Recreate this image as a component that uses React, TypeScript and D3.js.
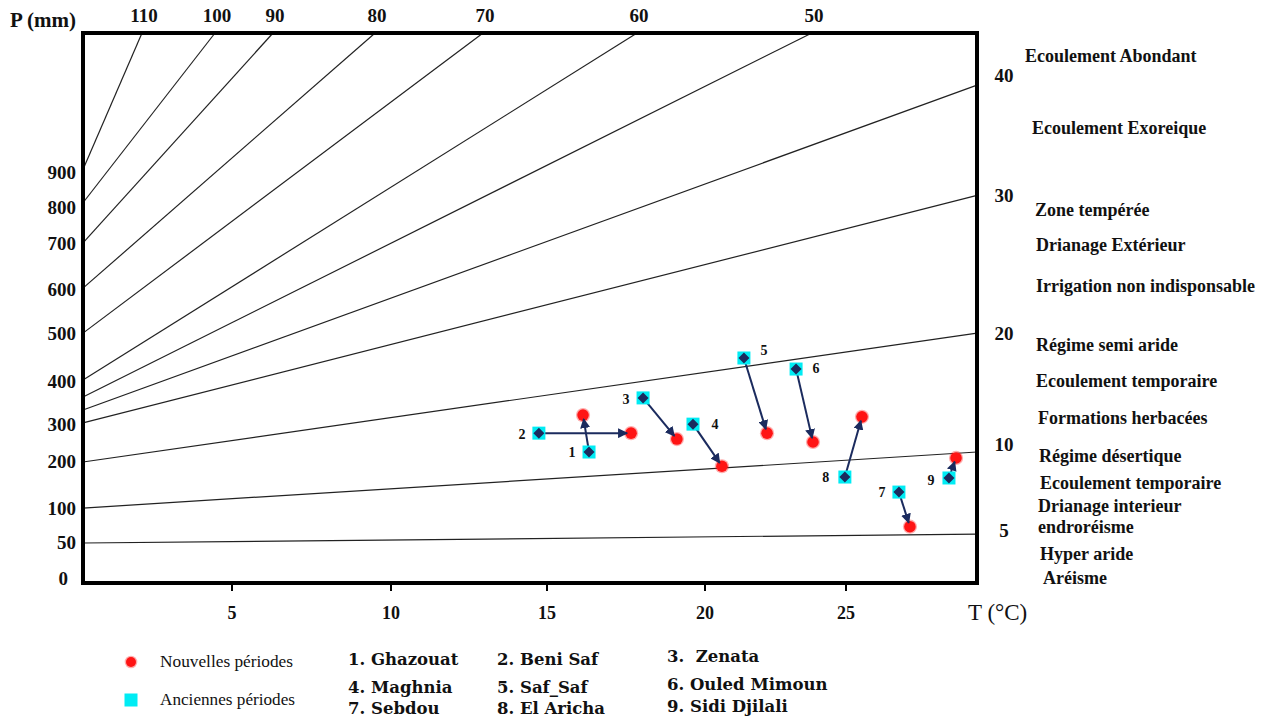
import React from "react";
import * as d3 from "d3";

// ---- Data ----
const tTicks = [5, 10, 15, 20, 25];
const pTicks = [0, 50, 100, 200, 300, 400, 500, 600, 700, 800, 900];

// De Martonne iso-aridity lines: index, P at T=0, and end point (top or right edge)
const isoIndex = [110, 100, 90, 80, 70, 60, 50, 40, 30, 20, 10, 5];
const isoStartP = [910, 815, 703, 604, 502, 404, 365, 335, 305, 200, 102, 50];
const isoEndT = [1.98, 4.43, 6.29, 9.5, 12.95, 17.85, 23.79, 30, 30, 30, 30, 30];
const isoEndP = [1300, 1300, 1300, 1300, 1300, 1300, 1300, 1151, 836, 502, 227, 63];

const stationNames = [
  "Ghazouat",
  "Beni Saf",
  "Zenata",
  "Maghnia",
  "Saf_Saf",
  "Ouled Mimoun",
  "Sebdou",
  "El Aricha",
  "Sidi Djilali",
];
const oldT = [16.33, 14.74, 18.04, 19.62, 21.38, 23.23, 27.02, 24.96, 28.93];
const oldP = [227, 278, 363, 302, 450, 427, 136, 168, 166];
const newT = [16.14, 17.66, 19.11, 20.6, 22.2, 23.83, 27.44, 25.61, 29.2];
const newP = [323, 278, 262, 191, 278, 254, 74, 319, 211];

const zoneLabels = [
  "Ecoulement Abondant",
  "Ecoulement Exoreique",
  "Zone tempérée",
  "Drianage Extérieur",
  "Irrigation non indisponsable",
  "Régime semi aride",
  "Ecoulement temporaire",
  "Formations herbacées",
  "Régime désertique",
  "Ecoulement temporaire",
  "Drianage interieur",
  "endroréisme",
  "Hyper aride",
  "Aréisme",
];

const legendSeries = ["Nouvelles périodes", "Anciennes périodes"];

// ---- Layout ----
const W = 1269;
const H = 719;
const L = 83,
  R = 977,
  T = 33,
  B = 583;

const zoneLayout: [number, number][] = [
  [1025, 56], [1032, 128], [1035, 210], [1036, 245], [1036, 286], [1036, 345],
  [1036, 381], [1038, 418], [1039, 456], [1040, 483], [1038, 506], [1038, 527],
  [1040, 554], [1043, 578],
];
const labelOffsets: [number, number][] = [
  [-17, 0], [-17, 1], [-17, 1], [22, 0], [20, -8], [20, -1], [-17, 0], [-19, 0], [-18, 2],
];
const listCols = [348, 497, 667];
const listRows = [
  [659, 687, 708],
  [659, 687, 708],
  [656, 684, 706],
];

const serif = "'Liberation Serif', 'Times New Roman', serif";
const listFont = "'DejaVu Serif', serif";
const NAVY = "#1b2b5e";
const CYAN = "#00ecf4";
const RED = "#ff1414";

export default function App() {
  // piecewise-linear scales matching the hand-drawn axes
  const x = d3
    .scaleLinear()
    .domain([0, 5, 10, 15, 20, 25, 30])
    .range([L, 232, 391, 547, 705, 846, R]);
  const y = d3
    .scaleLinear()
    .domain([0, 50, 100, 200, 300, 400, 500, 600, 700, 800, 900, 1300])
    .range([580, 543, 509, 462, 425, 382, 334, 290, 244, 208, 173, T]);

  const line = d3
    .line<[number, number]>()
    .x((d) => x(d[0]))
    .y((d) => y(d[1]));

  const stations = stationNames.map((name, i) => {
    const x0 = x(oldT[i]);
    const y0 = y(oldP[i]);
    const x1 = x(newT[i]);
    const y1 = y(newP[i]);
    const len = Math.hypot(x1 - x0, y1 - y0);
    const ex = x1 - ((x1 - x0) / len) * 4;
    const ey = y1 - ((y1 - y0) / len) * 4;
    return { name, i, x0, y0, x1, y1, ex, ey };
  });

  const RedMarker = ({ cx, cy, r = 5.8 }: { cx: number; cy: number; r?: number }) => (
    <g>
      <circle cx={cx} cy={cy} r={r + 1.3} fill={RED} opacity={0.35} />
      <circle cx={cx} cy={cy} r={r} fill={RED} />
    </g>
  );

  const OldMarker = ({ cx, cy, diamond = true }: { cx: number; cy: number; diamond?: boolean }) => (
    <g>
      <rect x={cx - 6.5} y={cy - 6.5} width={13} height={13} fill={CYAN} />
      {diamond && (
        <path
          d={`M${cx},${cy - 5.5} L${cx + 5.5},${cy} L${cx},${cy + 5.5} L${cx - 5.5},${cy} Z`}
          fill={NAVY}
        />
      )}
    </g>
  );

  return (
    <svg
      width={W}
      height={H}
      style={{ position: "absolute", left: 0, top: 0, background: "#fff" }}
      xmlns="http://www.w3.org/2000/svg"
    >
      <defs>
        <marker
          id="arrow"
          viewBox="0 0 10 10"
          refX={9}
          refY={5}
          markerWidth={5}
          markerHeight={5}
          orient="auto"
          markerUnits="strokeWidth"
        >
          <path d="M0,0 L10,5 L0,10 Z" fill={NAVY} />
        </marker>
      </defs>
      <rect x={0} y={0} width={W} height={H} fill="#fff" />

      {/* iso-aridity lines */}
      {isoIndex.map((ix, i) => (
        <path
          key={"iso" + ix}
          d={line([
            [0, isoStartP[i]],
            [isoEndT[i], isoEndP[i]],
          ]) as string}
          fill="none"
          stroke="#222"
          strokeWidth={1.2}
        />
      ))}

      {/* iso-line index labels */}
      {isoIndex.map((ix, i) =>
        isoEndP[i] >= 1300 ? (
          <text
            key={"il" + ix}
            x={x(isoEndT[i]) + 2}
            y={22}
            textAnchor="middle"
            fontFamily={serif}
            fontWeight="bold"
            fontSize={19}
            fill="#111"
          >
            {ix}
          </text>
        ) : (
          <text
            key={"il" + ix}
            x={1004}
            y={y(isoEndP[i]) + (ix === 40 ? -3 : ix === 10 ? -1 : ix === 5 ? 3 : 7)}
            textAnchor="middle"
            fontFamily={serif}
            fontWeight="bold"
            fontSize={19}
            fill="#111"
          >
            {ix}
          </text>
        )
      )}

      {/* frame */}
      <rect x={L} y={T} width={R - L} height={B - T} fill="none" stroke="#000" strokeWidth={4} />

      {/* x ticks */}
      {tTicks.map((t) => (
        <g key={"xt" + t}>
          <line x1={x(t)} x2={x(t)} y1={B} y2={B + 8} stroke="#000" strokeWidth={2} />
          <text
            x={x(t)}
            y={619}
            textAnchor="middle"
            fontFamily={serif}
            fontWeight="bold"
            fontSize={18}
            fill="#111"
          >
            {t}
          </text>
        </g>
      ))}
      <text x={968} y={620} fontFamily={serif} fontSize={23} fill="#111">
        T (°C)
      </text>

      {/* y ticks labels */}
      {pTicks.map((p) => (
        <text
          key={"yt" + p}
          x={p === 0 ? 68 : 76}
          y={y(p) + (p === 0 ? 5 : 6)}
          textAnchor="end"
          fontFamily={serif}
          fontWeight="bold"
          fontSize={19}
          fill="#111"
        >
          {p}
        </text>
      ))}
      <text x={10} y={27} fontFamily={serif} fontWeight="bold" fontSize={21} fill="#111">
        P (mm)
      </text>

      {/* zone labels */}
      {zoneLabels.map((s, i) => (
        <text
          key={"z" + i}
          x={zoneLayout[i][0]}
          y={zoneLayout[i][1] + 6}
          fontFamily={serif}
          fontWeight="bold"
          fontSize={18}
          fill="#111"
        >
          {s}
        </text>
      ))}

      {/* stations */}
      {stations.map((s) => (
        <RedMarker key={"n" + s.i} cx={s.x1} cy={s.y1} />
      ))}
      {stations.map((s) => (
        <line
          key={"a" + s.i}
          x1={s.x0}
          y1={s.y0}
          x2={s.ex}
          y2={s.ey}
          stroke={NAVY}
          strokeWidth={2}
          markerEnd="url(#arrow)"
        />
      ))}
      {stations.map((s) => (
        <OldMarker key={"o" + s.i} cx={s.x0} cy={s.y0} />
      ))}
      {stations.map((s) => (
        <text
          key={"sl" + s.i}
          x={s.x0 + labelOffsets[s.i][0]}
          y={s.y0 + labelOffsets[s.i][1] + 5}
          textAnchor="middle"
          fontFamily={serif}
          fontWeight="bold"
          fontSize={14}
          fill="#111"
        >
          {s.i + 1}
        </text>
      ))}

      {/* legend */}
      <RedMarker cx={131} cy={662} r={5} />
      <text x={160} y={667} fontFamily={serif} fontSize={16} fill="#111" textLength={133} lengthAdjust="spacingAndGlyphs">
        {legendSeries[0]}
      </text>
      <OldMarker cx={131} cy={700} diamond={false} />
      <text x={160} y={705} fontFamily={serif} fontSize={16} fill="#111" textLength={135} lengthAdjust="spacingAndGlyphs">
        {legendSeries[1]}
      </text>

      {stationNames.map((n, i) => {
        const col = i % 3;
        const row = Math.floor(i / 3);
        return (
          <text
            key={"ln" + i}
            x={listCols[col]}
            y={listRows[col][row] + 6}
            fontFamily={listFont}
            fontWeight="bold"
            fontSize={16.5}
            fill="#111"
            xmlSpace="preserve"
          >
            {`${i + 1}.${i === 2 ? "  " : " "}${n}`}
          </text>
        );
      })}
    </svg>
  );
}
